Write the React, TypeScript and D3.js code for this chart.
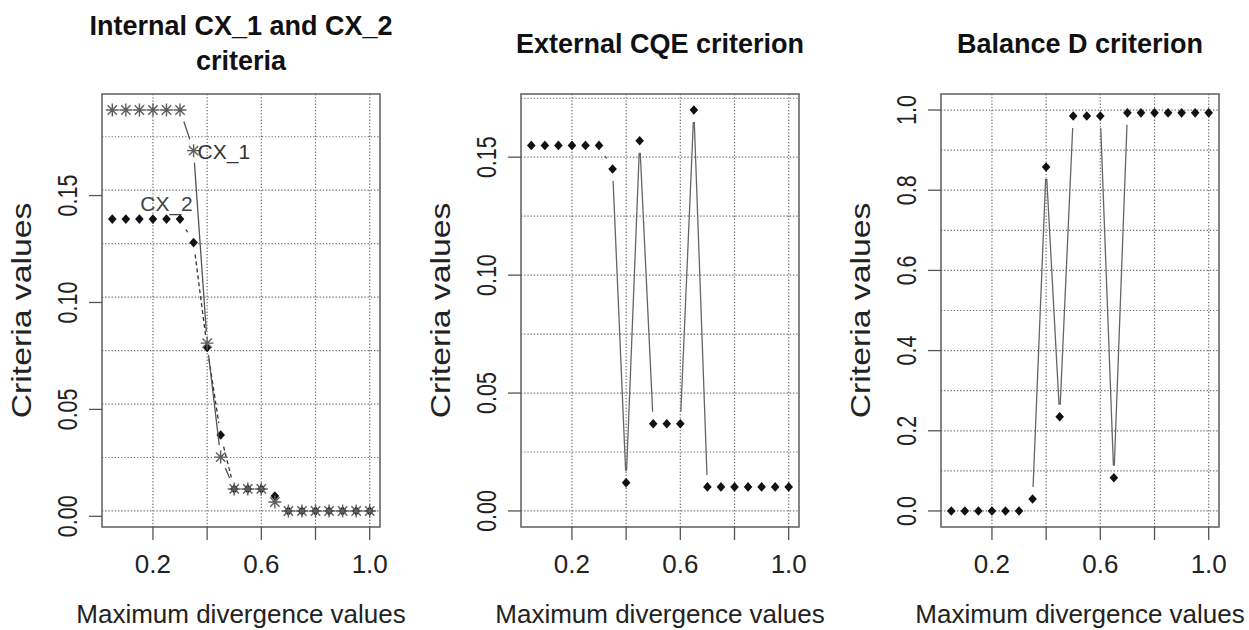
import React from 'react'
import * as d3 from 'd3'

// divergence thresholds on the x axis
const divergence = [0.05, 0.1, 0.15, 0.2, 0.25, 0.3, 0.35, 0.4, 0.45, 0.5, 0.55, 0.6, 0.65, 0.7, 0.75, 0.8, 0.85, 0.9, 0.95, 1.0]

// internal criteria
const cx1 = [0.19, 0.19, 0.19, 0.19, 0.19, 0.19, 0.171, 0.081, 0.0277, 0.0128, 0.0128, 0.0128, 0.0067, 0.0025, 0.0025, 0.0025, 0.0025, 0.0025, 0.0025, 0.0025]
const cx2 = [0.139, 0.139, 0.139, 0.139, 0.139, 0.139, 0.128, 0.079, 0.038, 0.0128, 0.0128, 0.0128, 0.0095, 0.0025, 0.0025, 0.0025, 0.0025, 0.0025, 0.0025, 0.0025]
// external criterion
const cqe = [0.155, 0.155, 0.155, 0.155, 0.155, 0.155, 0.145, 0.012, 0.157, 0.037, 0.037, 0.037, 0.17, 0.0102, 0.0102, 0.0102, 0.0102, 0.0102, 0.0102, 0.0102]
// balance criterion
const balance = [0, 0, 0, 0, 0, 0, 0.03, 0.858, 0.235, 0.985, 0.985, 0.985, 0.083, 0.993, 0.993, 0.993, 0.993, 0.993, 0.993, 0.993]

const xTicks = [0.2, 0.4, 0.6, 0.8, 1.0]
const xTickLabels = ['0.2', '', '0.6', '', '1.0']
const xLabel = 'Maximum divergence values'
const yLabel = 'Criteria values'

const FONT = '"Liberation Sans", Arial, sans-serif'
const PW = 278
const TOP = 94
const BOTTOM = 527
const GAP = 12

// R style usr range: extend 4% on each side
const extend = (lo: number, hi: number) => {
  const r = hi - lo
  return [lo - r * 0.04, hi + r * 0.04]
}

// type="b" segments, cut short around each point
function gappedPath(pts: [number, number][]) {
  let d = ''
  for (let i = 0; i < pts.length - 1; i++) {
    const [x1, y1] = pts[i]
    const [x2, y2] = pts[i + 1]
    const len = Math.hypot(x2 - x1, y2 - y1)
    if (len <= GAP * 2) continue
    const ux = (x2 - x1) / len, uy = (y2 - y1) / len
    d += `M${x1 + ux * GAP},${y1 + uy * GAP}L${x2 - ux * GAP},${y2 - uy * GAP}`
  }
  return d
}

const Diamond = ({ x, y }: { x: number, y: number }) =>
  <path d={`M${x},${y - 4.8}L${x + 4.3},${y}L${x},${y + 4.8}L${x - 4.3},${y}Z`} fill="#111" />

const Asterisk = ({ x, y }: { x: number, y: number }) => {
  const r = 6.5, s = r * 0.72
  return (
    <path d={`M${x - r},${y}H${x + r}M${x},${y - r}V${y + r}M${x - s},${y - s}L${x + s},${y + s}M${x - s},${y + s}L${x + s},${y - s}`}
      stroke="#5e5e5e" strokeWidth={1.4} fill="none" />
  )
}

type Series = { values: number[], marker: 'diamond' | 'asterisk', line: string, dash?: string }

function Panel(props: {
  left: number, title: string[], ylim: [number, number], yTicks: number[], fmt: string,
  gridStart: number, gridStep: number, series: Series[], children?: (x: any, y: any) => React.ReactNode
}) {
  const { left, title, ylim, yTicks, fmt, gridStart, gridStep, series } = props
  const x = d3.scaleLinear().domain(extend(0.05, 1.0)).range([left, left + PW])
  const y = d3.scaleLinear().domain(extend(ylim[0], ylim[1])).range([BOTTOM, TOP])
  const f = d3.format(fmt)
  const yGrid = d3.range(gridStart, y.domain()[1], gridStep)
  const cx = left + PW / 2
  const titleBase = title.length > 1 ? 35 : 53

  return (
    <g>
      {title.map((t, i) => (
        <text key={i} x={cx} y={titleBase + i * 35} textAnchor="middle" fontSize={27} fontWeight="bold" fontFamily={FONT} fill="#111">{t}</text>
      ))}
      <g stroke="#6e6e6e" strokeWidth={1.2} strokeDasharray="1.3 1.9">
        {xTicks.map(t => <line key={'v' + t} x1={x(t)} x2={x(t)} y1={TOP} y2={BOTTOM} />)}
        {yGrid.map(t => <line key={'h' + t} x1={left} x2={left + PW} y1={y(t)} y2={y(t)} />)}
      </g>
      {series.map((s, si) => {
        const pts = s.values.map((v, i) => [x(divergence[i]), y(v)] as [number, number])
        return (
          <g key={si}>
            <path d={gappedPath(pts)} stroke={s.line} strokeWidth={1.3} fill="none" strokeDasharray={s.dash} />
            {pts.map((p, i) => s.marker === 'diamond'
              ? <Diamond key={i} x={p[0]} y={p[1]} />
              : <Asterisk key={i} x={p[0]} y={p[1]} />)}
          </g>
        )
      })}
      {props.children && props.children(x, y)}
      <rect x={left} y={TOP} width={PW} height={BOTTOM - TOP} fill="none" stroke="#666" strokeWidth={1.6} />
      {/* axes */}
      <g stroke="#555" strokeWidth={1.3}>
        {xTicks.map(t => <line key={t} x1={x(t)} x2={x(t)} y1={BOTTOM} y2={BOTTOM + 13} />)}
        {yTicks.map(t => <line key={t} x1={left - 13} x2={left} y1={y(t)} y2={y(t)} />)}
      </g>
      {xTicks.map((t, i) => (
        <text key={t} x={x(t)} y={BOTTOM + 46} textAnchor="middle" fontSize={26} fontFamily={FONT} fill="#222">{xTickLabels[i]}</text>
      ))}
      {yTicks.map(t => (
        <text key={t} transform={`translate(${left - 25},${y(t)}) rotate(-90) scale(0.86,1.08)`} textAnchor="middle" fontSize={25} fontFamily={FONT} fill="#222">{f(t)}</text>
      ))}
      <text x={cx} y={BOTTOM + 96} textAnchor="middle" fontSize={26} fontFamily={FONT} fill="#222">{xLabel}</text>
      <text transform={`translate(${left - 71},${(TOP + BOTTOM) / 2}) rotate(-90) scale(1.25,1)`} textAnchor="middle" fontSize={27} fontFamily={FONT} fill="#222">{yLabel}</text>
    </g>
  )
}

export default function App() {
  return (
    <div style={{ position: 'absolute', left: 0, top: 0 }}>
      <svg width={1249} height={630} style={{ display: 'block', background: '#fff' }}>
        <Panel left={102} title={['Internal CX_1 and CX_2', 'criteria']} ylim={[0.0025, 0.19]}
          yTicks={[0, 0.05, 0.1, 0.15]} fmt=".2f" gridStart={0.0025} gridStep={0.025}
          series={[
            { values: cx2, marker: 'diamond', line: '#333', dash: '4 3' },
            { values: cx1, marker: 'asterisk', line: '#555' },
          ]}>
          {(x, y) => (
            <g fontFamily={FONT} fontSize={21}>
              <text x={x(divergence[6]) + 4} y={y(cx1[6]) + 8} fill="#333">CX_1</text>
              <text x={x(divergence[4])} y={y(cx2[4]) - 8} textAnchor="middle" fill="#444">CX_2</text>
            </g>
          )}
        </Panel>
        <Panel left={521} title={['External CQE criterion']} ylim={[0, 0.17]}
          yTicks={[0, 0.05, 0.1, 0.15]} fmt=".2f" gridStart={0} gridStep={0.025}
          series={[{ values: cqe, marker: 'diamond', line: '#666' }]} />
        <Panel left={941} title={['Balance D criterion']} ylim={[0, 1]}
          yTicks={[0, 0.2, 0.4, 0.6, 0.8, 1.0]} fmt=".1f" gridStart={0} gridStep={0.1}
          series={[{ values: balance, marker: 'diamond', line: '#666' }]} />
      </svg>
    </div>
  )
}
